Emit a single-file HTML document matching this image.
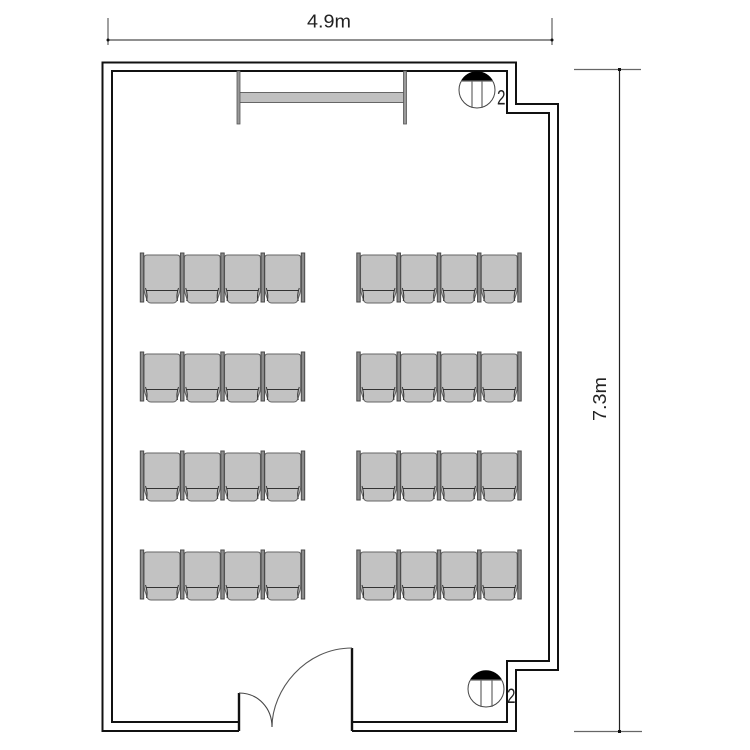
<!DOCTYPE html>
<html><head><meta charset="utf-8"><style>html,body{margin:0;padding:0;background:#fff}svg{display:block}text{font-family:"Liberation Sans",sans-serif;fill:#222}</style></head>
<body>
<svg width="750" height="750" viewBox="0 0 750 750" xmlns="http://www.w3.org/2000/svg">
<defs>
<g id="arm"><rect x="-1.700" y="0" width="3.400" height="49" fill="#8c8c8c" stroke="#4a4a4a" stroke-width="1"/></g>
<g id="chair">
<path d="M2 5Q2 2 5 2H35Q38 2 38 5V36Q38 38 37 41L35 47Q34 50 31 50H9Q6 50 5 47L3 41Q2 38 2 36Z" fill="#c2c2c2" stroke="#666" stroke-width="1.100"/>
<path d="M4.500 37.500H35.500" stroke="#333" stroke-width="1" fill="none"/>
<path d="M3.500 35Q6 42 4.500 48M36.500 35Q34 42 35.500 48" stroke="#333" stroke-width="1" fill="none"/>
</g>
<g id="row">
<use href="#chair" x="0"/><use href="#chair" x="40.250"/><use href="#chair" x="80.500"/><use href="#chair" x="120.750"/>
<use href="#arm" x="0"/><use href="#arm" x="40.250"/><use href="#arm" x="80.500"/><use href="#arm" x="120.750"/><use href="#arm" x="161"/>
</g>
</defs>
<!-- dimensions -->
<g fill="none">
<path d="M108 18V45M552 18V45" stroke="#777" stroke-width="1.400"/>
<path d="M108 40H552" stroke="#222" stroke-width="1"/>
<path d="M574 69.500H641M574 731.500H642" stroke="#666" stroke-width="1.200"/>
<path d="M619.500 69V732" stroke="#222" stroke-width="1.200"/>
</g>
<circle cx="108" cy="40" r="1.500" fill="#111"/><circle cx="552" cy="40" r="1.500" fill="#111"/>
<rect x="618" y="68" width="3" height="3" fill="#111"/>
<rect x="618" y="730" width="3" height="3" fill="#111"/>
<text x="307" y="27.500" font-size="18" textLength="44" lengthAdjust="spacingAndGlyphs">4.9m</text>
<text transform="translate(606,421) rotate(-90)" font-size="18" textLength="44" lengthAdjust="spacingAndGlyphs">7.3m</text>
<!-- walls -->
<g fill="none" stroke="#111" stroke-width="2">
<path d="M239 731H102.500V62.500H516V104H558V670H516V731H352"/>
<path d="M239 722H112V71H507V113H549V661H507V722H352"/>
</g>
<path d="M239 693V731M352 648V731" stroke="#111" stroke-width="2.400" fill="none"/>
<!-- door arcs -->
<path d="M352 648C305 648 272 690 272 727" fill="none" stroke="#555" stroke-width="1.100"/>
<path d="M239 693C258 693 272 708 272 727" fill="none" stroke="#444" stroke-width="1.100"/>
<!-- screen -->
<rect x="239" y="92.500" width="166" height="10" fill="#c0c0c0" stroke="#666" stroke-width="1"/>
<rect x="237" y="71" width="3" height="53" fill="#999" stroke="#555" stroke-width="0.800"/>
<rect x="403.500" y="71" width="3" height="53" fill="#999" stroke="#555" stroke-width="0.800"/>
<!-- speakers -->
<g>
<circle cx="477" cy="90" r="18" fill="#fff" stroke="#444" stroke-width="1"/>
<path d="M461 81A18 18 0 0 1 493 81Z" fill="#000"/>
<path d="M461 81H493M472 81V108M482 81V108" stroke="#666" stroke-width="1.200" fill="none"/>
<text x="497" y="104.500" font-size="21" textLength="8.500" lengthAdjust="spacingAndGlyphs">2</text>
<circle cx="486" cy="689" r="18" fill="#fff" stroke="#444" stroke-width="1"/>
<path d="M470 680A18 18 0 0 1 502 680Z" fill="#000"/>
<path d="M470 680H502M481 680V707M492 680V707" stroke="#666" stroke-width="1.200" fill="none"/>
<text x="507" y="703" font-size="21" textLength="8.500" lengthAdjust="spacingAndGlyphs">2</text>
</g>
<!-- seating -->
<g>
<use href="#row" x="142" y="253"/><use href="#row" x="358.500" y="253"/>
<use href="#row" x="142" y="352"/><use href="#row" x="358.500" y="352"/>
<use href="#row" x="142" y="451"/><use href="#row" x="358.500" y="451"/>
<use href="#row" x="142" y="550"/><use href="#row" x="358.500" y="550"/>
</g>
</svg>
</body></html>
